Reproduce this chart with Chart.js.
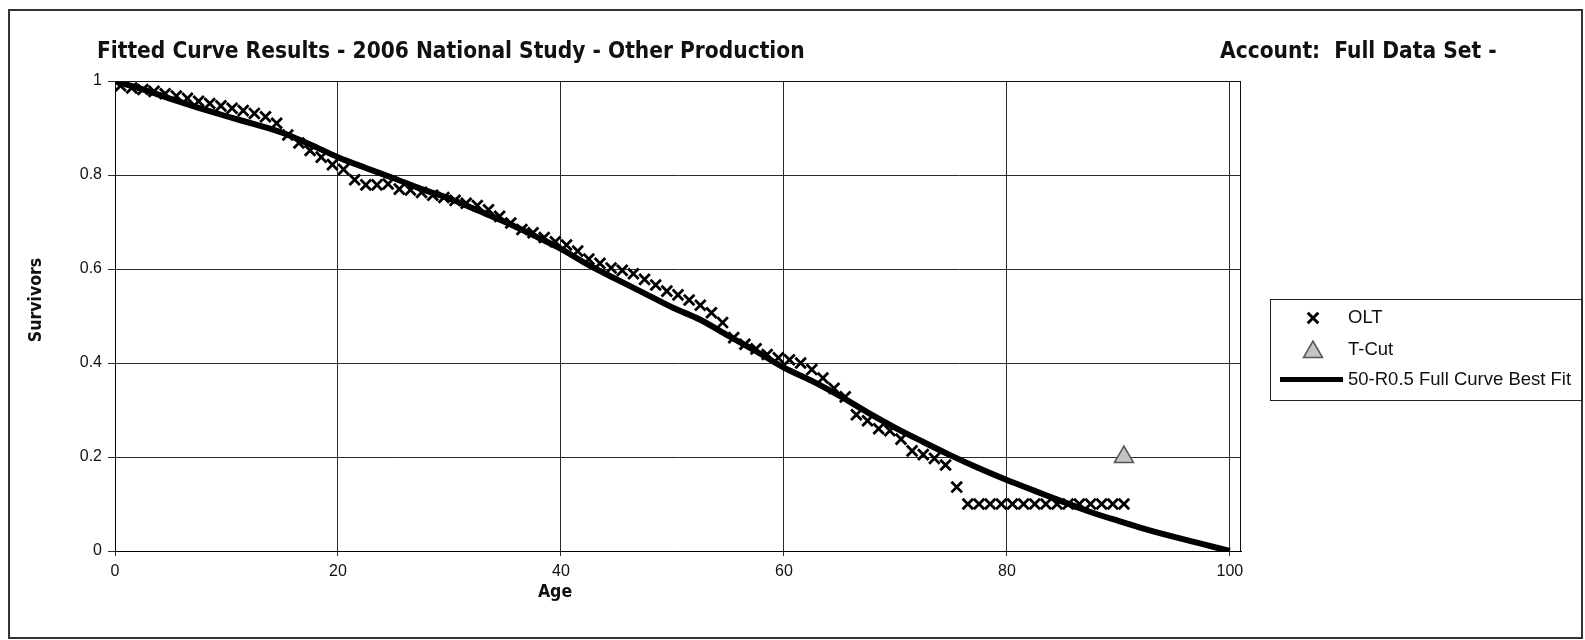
<!DOCTYPE html>
<html>
<head>
<meta charset="utf-8">
<script src="https://cdn.jsdelivr.net/npm/chart.js@4.4.1/dist/chart.umd.min.js"></script>
<style>
  html, body { margin: 0; padding: 0; background: #ffffff; }
  #wrap { position: relative; width: 1585px; height: 640px; }
  canvas { display: block; }
</style>
</head>
<body>
<div id="wrap"><canvas id="c" width="1585" height="640"></canvas></div>
<script>
// ---------------- data ----------------
const chartTitle = 'Fitted Curve Results - 2006 National Study - Other Production';
const accountText = 'Account:  Full Data Set -';
const xAxisTitle = 'Age';
const yAxisTitle = 'Survivors';
const seriesNames = ['OLT', 'T-Cut', '50-R0.5 Full Curve Best Fit'];

const xTicks = [0, 20, 40, 60, 80, 100];
const yTicks = [0, 0.2, 0.4, 0.6, 0.8, 1];
const yTickLabels = ['0', '0.2', '0.4', '0.6', '0.8', '1'];

const oltAges = [
  0, 0.5, 1.5, 2.5, 3.5, 4.5, 5.5, 6.5, 7.5, 8.5,
  9.5, 10.5, 11.5, 12.5, 13.5, 14.5, 15.5, 16.5, 17.5, 18.5,
  19.5, 20.5, 21.5, 22.5, 23.5, 24.5, 25.5, 26.5, 27.5, 28.5,
  29.5, 30.5, 31.5, 32.5, 33.5, 34.5, 35.5, 36.5, 37.5, 38.5,
  39.5, 40.5, 41.5, 42.5, 43.5, 44.5, 45.5, 46.5, 47.5, 48.5,
  49.5, 50.5, 51.5, 52.5, 53.5, 54.5, 55.5, 56.5, 57.5, 58.5,
  59.5, 60.5, 61.5, 62.5, 63.5, 64.5, 65.5, 66.5, 67.5, 68.5,
  69.5, 70.5, 71.5, 72.5, 73.5, 74.5, 75.5, 76.5, 77.5, 78.5,
  79.5, 80.5, 81.5, 82.5, 83.5, 84.5, 85.5, 86.5, 87.5, 88.5,
  89.5, 90.5
];
const oltSurvivors = [
  1.000, 0.990, 0.985, 0.982, 0.978, 0.973, 0.968, 0.963, 0.957, 0.952,
  0.947, 0.942, 0.937, 0.931, 0.924, 0.910, 0.885, 0.868, 0.852, 0.838,
  0.822, 0.812, 0.790, 0.779, 0.779, 0.781, 0.770, 0.768, 0.763, 0.757,
  0.752, 0.746, 0.740, 0.735, 0.726, 0.712, 0.698, 0.684, 0.677, 0.667,
  0.658, 0.651, 0.638, 0.621, 0.612, 0.602, 0.597, 0.590, 0.578, 0.566,
  0.553, 0.545, 0.534, 0.523, 0.507, 0.486, 0.454, 0.440, 0.430, 0.418,
  0.411, 0.407, 0.400, 0.386, 0.368, 0.346, 0.328, 0.290, 0.277, 0.260,
  0.256, 0.238, 0.213, 0.205, 0.197, 0.183, 0.136, 0.100, 0.100, 0.100,
  0.100, 0.100, 0.100, 0.100, 0.100, 0.100, 0.100, 0.100, 0.100, 0.100,
  0.100, 0.100
];

const tcutAges = [90.5];
const tcutSurvivors = [0.2];

const curveAges = [
  0, 2.5, 5, 7.5, 10, 12.5, 15, 17.5, 20, 22.5,
  25, 27.5, 30, 32.5, 35, 37.5, 40, 42.5, 45, 47.5,
  50, 52.5, 55, 57.5, 60, 62.5, 65, 67.5, 70, 72.5,
  75, 77.5, 80, 82.5, 85, 87.5, 90, 92.5, 95, 97.5, 100
];
const curveSurvivors = [
  1.000, 0.982, 0.962, 0.943, 0.925, 0.908, 0.890, 0.865, 0.838, 0.815,
  0.793, 0.770, 0.750, 0.725, 0.700, 0.672, 0.643, 0.608, 0.578, 0.548,
  0.518, 0.492, 0.458, 0.425, 0.390, 0.362, 0.330, 0.295, 0.262, 0.232,
  0.203, 0.176, 0.151, 0.128, 0.105, 0.083, 0.064, 0.046, 0.030, 0.015, 0.000
];

// ---------------- build ----------------
function pts(xs, ys) { return xs.map((x, i) => ({ x: x, y: ys[i] })); }

const NARROW = '"Liberation Sans Narrow", "DejaVu Sans Condensed", "Roboto Condensed", "Liberation Sans", Arial, sans-serif';
const ARIAL = '"Liberation Sans", Arial, sans-serif';

function fitSize(ctx, text, weight, family, target, maxSize) {
  ctx.font = weight + ' 100px ' + family;
  const w = ctx.measureText(text).width;
  return Math.min(maxSize, 100 * target / w);
}

const decor = {
  id: 'decor',
  afterDraw(chart) {
    const ctx = chart.ctx;
    const a = chart.chartArea;
    ctx.save();

    // plot area border (top / right)
    ctx.strokeStyle = '#111';
    ctx.lineWidth = 1;
    ctx.beginPath();
    ctx.moveTo(a.left, a.top + 0.5);
    ctx.lineTo(a.right - 0.5, a.top + 0.5);
    ctx.lineTo(a.right - 0.5, a.bottom);
    ctx.stroke();

    // outer frame
    ctx.strokeStyle = '#333';
    ctx.lineWidth = 2;
    ctx.strokeRect(9, 10, 1573, 628);

    // titles
    ctx.fillStyle = '#111';
    ctx.textBaseline = 'alphabetic';
    ctx.textAlign = 'left';
    const ts = fitSize(ctx, chartTitle, 'bold', NARROW, 708, 27);
    ctx.font = 'bold ' + ts + 'px ' + NARROW;
    ctx.fillText(chartTitle, 97, 58);
    ctx.fillText(accountText, 1220, 58);

    // axis titles
    const as = ts * 0.78;
    ctx.font = 'bold ' + as + 'px ' + NARROW;
    ctx.textAlign = 'center';
    ctx.textBaseline = 'middle';
    ctx.fillText(xAxisTitle, 555, 592);
    ctx.save();
    ctx.translate(36, 300);
    ctx.rotate(-Math.PI / 2);
    ctx.fillText(yAxisTitle, 0, 0);
    ctx.restore();

    // legend
    ctx.strokeStyle = '#222';
    ctx.lineWidth = 1;
    ctx.strokeRect(1270.5, 299.5, 312, 101);
    ctx.font = '18.5px ' + ARIAL;
    ctx.textAlign = 'left';
    ctx.textBaseline = 'middle';
    ctx.fillStyle = '#111';
    // OLT
    ctx.strokeStyle = '#000';
    ctx.lineWidth = 3;
    Chart.helpers.drawPoint(ctx, { pointStyle: 'crossRot', radius: 7.5, rotation: 0, borderWidth: 3 }, 1313, 318);
    ctx.fillText(seriesNames[0], 1348, 318);
    // T-Cut
    ctx.fillStyle = '#c4c4c4';
    ctx.strokeStyle = '#555';
    ctx.lineWidth = 1.5;
    Chart.helpers.drawPoint(ctx, { pointStyle: 'triangle', radius: 11, rotation: 0, borderWidth: 1.5 }, 1313, 352);
    ctx.fillStyle = '#111';
    ctx.fillText(seriesNames[1], 1348, 350);
    // curve
    ctx.strokeStyle = '#000';
    ctx.lineWidth = 5;
    ctx.beginPath();
    ctx.moveTo(1280, 379.5);
    ctx.lineTo(1343, 379.5);
    ctx.stroke();
    ctx.fillText(seriesNames[2], 1348, 380);

    ctx.restore();
  }
};

const gridColor = '#2a2a2a';

new Chart(document.getElementById('c'), {
  type: 'scatter',
  data: {
    datasets: [
      {
        label: seriesNames[2],
        type: 'line',
        data: pts(curveAges, curveSurvivors),
        borderColor: '#000',
        borderWidth: 6,
        pointRadius: 0,
        fill: false,
        showLine: true,
        cubicInterpolationMode: 'monotone',
        order: 0
      },
      {
        label: seriesNames[1],
        data: pts(tcutAges, tcutSurvivors),
        pointStyle: 'triangle',
        pointRadius: 11,
        pointBackgroundColor: '#c4c4c4',
        pointBorderColor: '#555',
        pointBorderWidth: 1.5,
        order: 1
      },
      {
        label: seriesNames[0],
        data: pts(oltAges, oltSurvivors),
        pointStyle: 'crossRot',
        pointRadius: 7.5,
        pointBorderColor: '#000',
        pointBackgroundColor: '#000',
        pointBorderWidth: 2.8,
        order: 2
      }
    ]
  },
  options: {
    responsive: false,
    animation: false,
    devicePixelRatio: 1,
    events: [],
    layout: { padding: { left: 0, top: 81, right: 344, bottom: 0 } },
    plugins: { legend: { display: false }, tooltip: { enabled: false }, title: { display: false } },
    scales: {
      x: {
        type: 'linear',
        min: 0,
        max: 101,
        afterBuildTicks(scale) { scale.ticks = xTicks.map(v => ({ value: v })); },
        afterFit(scale) { scale.height = 89; },
        ticks: { color: '#111', font: { family: ARIAL, size: 16 }, padding: 6, maxRotation: 0 },
        grid: { color: gridColor, lineWidth: 1, tickLength: 5, tickColor: gridColor },
        border: { display: true, color: '#000', width: 1 }
      },
      y: {
        type: 'linear',
        min: 0,
        max: 1,
        afterBuildTicks(scale) { scale.ticks = yTicks.map(v => ({ value: v })); },
        afterFit(scale) { scale.width = 115; },
        ticks: {
          color: '#111', font: { family: ARIAL, size: 16 }, padding: 6,
          callback(value) { const i = yTicks.indexOf(value); return i >= 0 ? yTickLabels[i] : ''; }
        },
        grid: { color: gridColor, lineWidth: 1, tickLength: 7, tickColor: gridColor },
        border: { display: true, color: '#000', width: 1 }
      }
    }
  },
  plugins: [decor]
});
</script>
</body>
</html>
